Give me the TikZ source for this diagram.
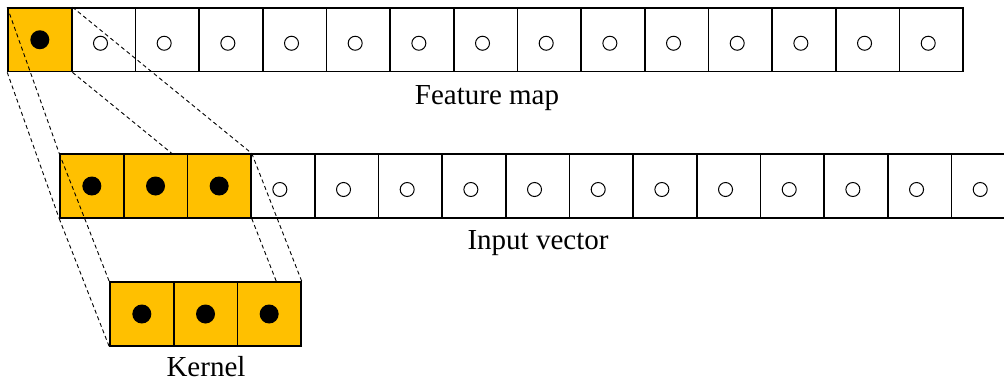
\documentclass[tikz,border=0pt]{standalone}
\usepackage{fontspec}
\setmainfont{Liberation Serif}
\definecolor{gold}{HTML}{FFC000}
\pgfdeclarelayer{toprow}
\pgfdeclarelayer{guidesA}
\pgfdeclarelayer{midrow}
\pgfdeclarelayer{guidesB}
\pgfsetlayers{toprow,guidesA,midrow,guidesB,main}
\tikzset{
  cell/.style={draw, line width=1.6pt, minimum size=63.6pt, inner sep=0pt, fill=white},
  active/.style={cell, fill=gold},
  guide/.style={line width=0.9pt, dash pattern=on 4pt off 3pt},
  emptydot/.style={line width=1pt},
  caption/.style={font=\fontsize{29}{34}\selectfont, anchor=base, inner sep=0pt}
}
\newcommand{\cw}{63.67}
\begin{document}
\begin{tikzpicture}[x=1pt,y=1pt]
\useasboundingbox (0,0) rectangle (1004,-383);
\clip (0,0) rectangle (1004,-383);

% feature map row
\begin{pgfonlayer}{toprow}
\foreach \i in {0,...,14}{
  \ifnum\i=0
    \node[active] (t\i) at ({8+\cw*(\i+0.5)},-39.75) {};
    \fill (t\i) circle (9.5);
  \else
    \node[cell] (t\i) at ({8+\cw*(\i+0.5)},-39.75) {};
    \draw[emptydot] ([shift={(-3,-3.5)}]t\i.center) circle (7);
  \fi
}
\end{pgfonlayer}

% input vector row
\begin{pgfonlayer}{midrow}
\foreach \i in {0,...,14}{
  \ifnum\i<3
    \node[active] (m\i) at ({60+\cw*(\i+0.5)},-186) {};
    \fill (m\i) circle (9.5);
  \else
    \node[cell] (m\i) at ({60+\cw*(\i+0.5)},-186) {};
    \draw[emptydot] ([shift={(-3,-3.5)}]m\i.center) circle (7);
  \fi
}
\end{pgfonlayer}

% kernel
\foreach \i in {0,1,2}{
  \node[active] (k\i) at ({110+\cw*(\i+0.5)},-314) {};
  \fill (k\i) circle (9.5);
}

% projection guides: feature map cell -> input window
\begin{pgfonlayer}{guidesA}
\draw[guide] (t0.north west) -- (m0.north west);
\draw[guide] (t0.south west) -- (m0.south west);
\draw[guide] (t0.north east) -- (m2.north east);
\draw[guide] (t0.south east) -- (m2.south east);
\end{pgfonlayer}

% projection guides: input window -> kernel
\begin{pgfonlayer}{guidesB}
\draw[guide] (m0.north west) -- (k0.north west);
\draw[guide] (m0.south west) -- (k0.south west);
\draw[guide] (m2.north east) -- (k2.north east);
\draw[guide] (m2.south east) -- (k2.south east);
\end{pgfonlayer}

% captions
\node[caption] (lf) at (487,-104.7) {Feature map};
\node[caption] (li) at (538,-249) {Input vector};
\node[caption] (lk) at (206,-376.7) {Kernel};
\end{tikzpicture}
\end{document}
